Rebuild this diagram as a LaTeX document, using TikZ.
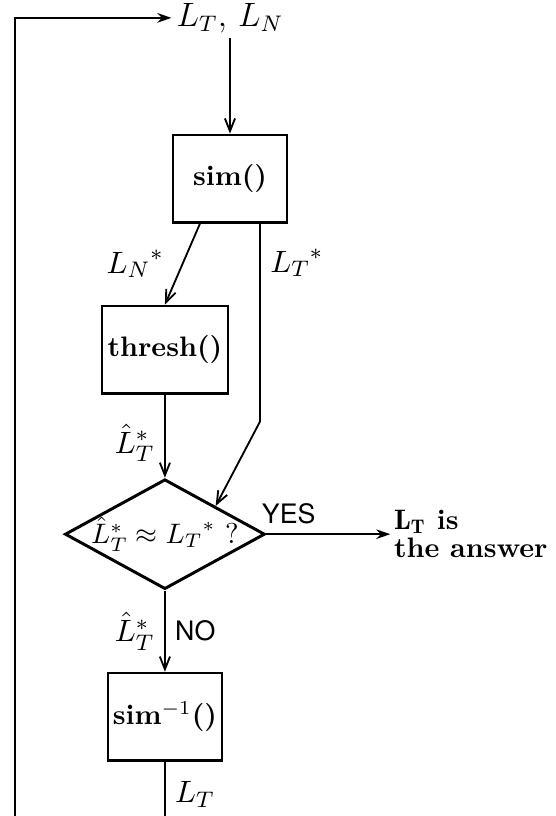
\documentclass[tikz,border=0pt]{standalone}
\usepackage{fontspec}
\newfontfamily\heros{TeX Gyre Heros}
\usetikzlibrary{arrows.meta,positioning,shapes.geometric}

\begin{document}
\begin{tikzpicture}[box/.style={draw,line width=0.95pt,minimum width=40.5pt,minimum height=31pt,inner sep=1pt,font=\bfseries},
  cond/.style={draw,diamond,line width=1.05pt,minimum width=71pt,minimum height=39pt,inner sep=0pt},
  lab/.style={font=\fontsize{11}{13}\selectfont}, yn/.style={font=\heros\fontsize{9.5}{11}\selectfont},
  hd/.style={-{Stealth[length=5pt,width=3.4pt]}}, line width=0.65pt, >={Straight Barb[length=4.5pt,width=3.6pt]}]
\useasboundingbox (-81.65pt,-226.3pt) rectangle (115.4pt,63.4pt);
\node[box] (sim) at (0,0) {sim()};
\node[font=\large,inner sep=1.5pt,above=34pt of sim] (top) {$L_T$, $L_N$};
\node[box,minimum width=44.7pt,below=28.8pt of sim,xshift=-23.1pt] (thresh) {thresh()};
\node[cond,below=29.5pt of thresh,label={[font=\fontsize{10.2}{12}\selectfont]center:$\hat{L}^*_T \approx {L_T}^*$ ?}] (dec) {};
\node[box,below=28.8pt of dec] (inv) {sim$^{-1}$()};
\node[right=44pt of dec,align=left,inner sep=1pt,font=\bfseries] (ans) {$\mathbf{L_T}$ is\\[-2pt]the answer};
\coordinate (bend) at ([xshift=10.65pt,yshift=-70.3pt]sim.south);
\coordinate (floor) at (0,-226.3pt);
\coordinate (back) at (-76.3pt,-226.3pt);
\draw[->] (top) -- (sim);
\draw[->] ([xshift=-10.65pt]sim.south) -- node[lab,left=3pt] {${L_N}^*$} (thresh.north);
\draw[->] ([xshift=10.65pt]sim.south) -- node[lab,right,pos=0.2] {${L_T}^*$} (bend) -- (dec.north east);
\draw[->] (thresh) -- node[lab,left,pos=0.58] {$\hat{L}^*_T$} (dec);
\draw[hd] (dec.east) -- node[yn,above,pos=0.18] {YES} (ans.west);
\draw[->] (dec) -- node[lab,left] {$\hat{L}^*_T$} node[yn,right] {NO} (inv);
\draw (inv) -- node[lab,right,pos=0.6] {$L_T$} (inv.south |- floor);
\draw[hd] (back) |- (top);
\end{tikzpicture}
\end{document}
